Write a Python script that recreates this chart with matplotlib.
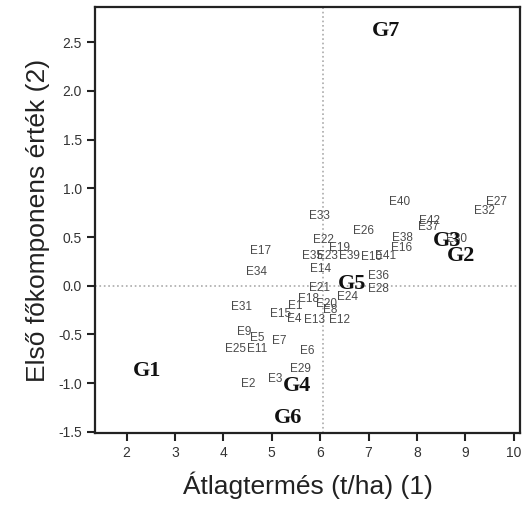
"""
Biplot-style scatter of genotype labels (E1..E42) and group labels (G1..G7)
"""
import matplotlib.pyplot as plt

plt.rcParams['font.family'] = ['Liberation Sans', 'DejaVu Sans']

# Genotype labels with their coordinates (yield, first principal component)
e_labels = ['E%d' % i for i in range(1, 43)]
e_x = [5.48, 4.51, 5.06, 5.46, 4.69, 5.73, 5.15, 6.20, 4.42, 7.07,
       4.69, 6.39, 5.89, 6.01, 5.19, 7.69, 4.77, 5.75, 6.39, 6.14,
       5.99, 6.06, 6.16, 6.57, 4.26, 6.90, 9.65, 7.21, 5.60, 8.82,
       4.38, 9.40, 5.99, 4.69, 5.85, 7.21, 8.23, 7.71, 6.61, 7.65,
       7.36, 8.27]
e_y = [-0.21, -1.01, -0.96, -0.34, -0.54, -0.67, -0.57, -0.25, -0.48, 0.29,
       -0.65, -0.35, -0.35, 0.17, -0.29, 0.39, 0.36, -0.14, 0.39, -0.19,
       -0.02, 0.47, 0.31, -0.12, -0.65, 0.56, 0.86, -0.03, -0.86, 0.48,
       -0.22, 0.77, 0.72, 0.14, 0.31, 0.10, 0.60, 0.49, 0.31, 0.86,
       0.30, 0.66]

# Group labels
g_labels = ['G1', 'G2', 'G3', 'G4', 'G5', 'G6', 'G7']
g_x = [2.42, 8.91, 8.62, 5.52, 6.65, 5.33, 7.36]
g_y = [-0.88, 0.31, 0.46, -1.03, 0.02, -1.36, 2.61]

# Reference lines
x_ref = 6.06
y_ref = 0.0

fig = plt.figure(figsize=(5.22, 5.08), dpi=100)
ax = fig.add_axes([0.182, 0.148, 0.814, 0.838])

for lab, x, y in zip(e_labels, e_x, e_y):
    ax.text(x, y, lab, ha='center', va='center', fontsize=8.5,
            color='#4a4a4a', zorder=3)

for lab, x, y in zip(g_labels, g_x, g_y):
    ax.text(x, y, lab, ha='center', va='center', fontsize=16,
            fontfamily='Liberation Serif', fontweight='bold',
            color='#111111', zorder=4)

ax.axvline(x_ref, color='#aaaaaa', linestyle=':', linewidth=1.2, zorder=1)
ax.axhline(y_ref, color='#aaaaaa', linestyle=':', linewidth=1.2, zorder=1)

ax.set_xlim(1.345, 10.13)
ax.set_ylim(-1.51, 2.86)
ax.set_xticks(range(2, 11))
ax.set_yticks([-1.5, -1.0, -0.5, 0.0, 0.5, 1.0, 1.5, 2.0, 2.5])
ax.set_yticklabels(['-1.5', '-1.0', '-0.5', '0.0', '0.5', '1.0', '1.5', '2.0', '2.5'])

ax.tick_params(direction='out', length=6, width=1.5, labelsize=10,
               labelcolor='#333333', color='#222222')
for sp in ax.spines.values():
    sp.set_linewidth(1.6)
    sp.set_color('#222222')

ax.set_xlabel('Átlagtermés (t/ha) (1)', fontsize=19, color='#222222', labelpad=8)
ax.set_ylabel('Első főkomponens érték (2)', fontsize=19, color='#222222', labelpad=6)

fig.savefig('out.png', dpi=100)
